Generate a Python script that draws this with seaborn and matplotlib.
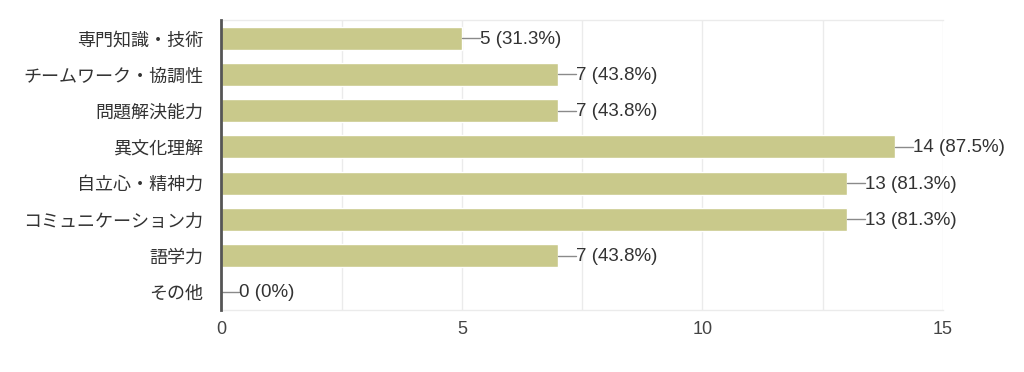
import seaborn as sns
import matplotlib.pyplot as plt
import pandas as pd
from matplotlib.ticker import MultipleLocator

categories = ['専門知識・技術', 'チームワーク・協調性', '問題解決能力', '異文化理解',
              '自立心・精神力', 'コミュニケーション力', '語学力', 'その他']
counts = [5, 7, 7, 14, 13, 13, 7, 0]
pct_labels = ['31.3%', '43.8%', '43.8%', '87.5%', '81.3%', '81.3%', '43.8%', '0%']

df = pd.DataFrame({'item': categories, 'count': counts})

sns.set_style('white')
plt.rcParams['font.family'] = ['Noto Sans CJK JP', 'DejaVu Sans']

fig = plt.figure(figsize=(10.24, 3.72), dpi=100)
ax = fig.add_axes([0.216, 0.167, 0.705, 0.779])

sns.barplot(data=df, x='count', y='item', color='#c9c98b', saturation=1,
            width=0.64, ax=ax, zorder=2)

ax.set_xlim(0, 15)
ax.set_ylim(7.5, -0.5)
ax.xaxis.set_major_locator(MultipleLocator(5))
ax.xaxis.set_minor_locator(MultipleLocator(2.5))
ax.grid(True, which='both', axis='x', color='#ebebeb', lw=1, zorder=0)
ax.set_xlabel('')
ax.set_ylabel('')

for s in ['top', 'right', 'bottom']:
    ax.spines[s].set_color('#ebebeb')
    ax.spines[s].set_linewidth(1)
ax.spines['right'].set_visible(False)
ax.spines['left'].set_color('#555555')
ax.spines['left'].set_linewidth(2)
ax.spines['left'].set_zorder(3)

ax.tick_params(axis='y', length=0, labelsize=13, colors='#333333', pad=13)
ax.tick_params(axis='x', length=0, labelsize=13, colors='#444444', pad=8)
for t in ax.get_xticklabels():
    t.set_family(['Liberation Sans'])

# leader line + label to the right of each bar
for i, (c, p) in enumerate(zip(counts, pct_labels)):
    ax.plot([c, c + 0.37], [i, i], color='#8a8a8a', lw=1, zorder=3)
    ax.text(c + 0.38, i + 0.03, f'{c} ({p})', va='center', ha='left',
            fontsize=13.5, color='#333333', family=['Liberation Sans'])

fig.savefig('out.png', dpi=100)
